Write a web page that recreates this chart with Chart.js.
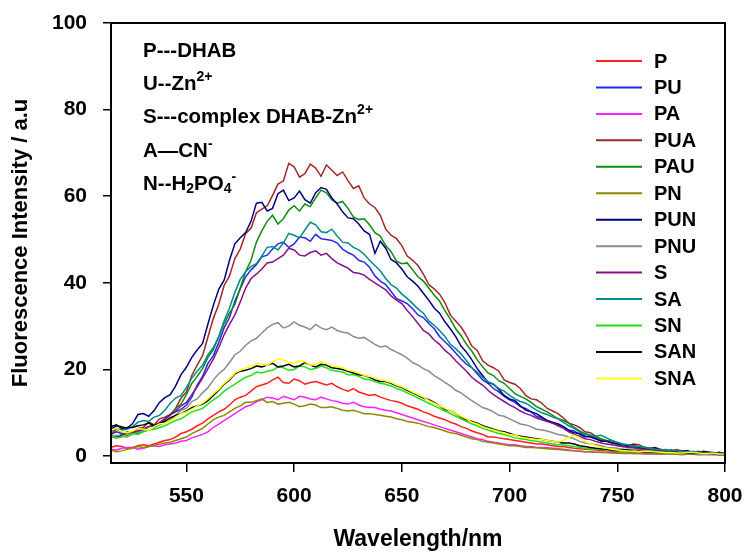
<!DOCTYPE html>
<html><head><meta charset="utf-8">
<script src="https://cdn.jsdelivr.net/npm/chart.js@4"></script>
<style>html,body{margin:0;padding:0;background:#fff;}canvas{display:block;}</style>
</head><body>
<canvas id="c" width="747" height="553"></canvas>
<script>
const wavelengths = [515,517.5,520,522.5,525,527.5,530,532.5,535,537.5,
540,542.5,545,547.5,550,552.5,555,557.5,560,562.5,
565,567.5,570,572.5,575,577.5,580,582.5,585,587.5,
590,592.5,595,597.5,600,602.5,605,607.5,610,612.5,
615,617.5,620,622.5,625,627.5,630,632.5,635,637.5,
640,642.5,645,647.5,650,652.5,655,657.5,660,662.5,
665,667.5,670,672.5,675,677.5,680,682.5,685,687.5,
690,692.5,695,697.5,700,702.5,705,707.5,710,712.5,
715,717.5,720,722.5,725,727.5,730,732.5,735,737.5,
740,742.5,745,747.5,750,752.5,755,757.5,760,762.5,
765,767.5,770,772.5,775,777.5,780,782.5,785,787.5,
790,792.5,795,797.5,800];
const xTicks = [550,600,650,700,750,800];
const yTicks = [0,20,40,60,80,100];
const seriesNames = ['P','PU','PA','PUA','PAU','PN','PUN','PNU','S','SA','SN','SAN','SNA'];
const seriesColors = ['#FF2020','#2828F0','#FF20FF','#A02828','#108A10','#8A8A00','#000080','#8C8C8C','#8A108A','#008C8C','#20E020','#000000','#FFFF10'];

const P = [2.0,2.4,2.2,1.8,2.0,2.4,2.6,2.4,2.8,3.2,
3.6,3.8,4.4,5.2,5.6,6.2,7.0,7.6,8.6,9.4,
10.2,10.8,11.8,13.0,13.6,14.0,15.0,16.0,16.4,16.8,
17.6,18.2,17.0,16.8,17.8,17.4,16.6,17.0,17.2,16.8,
16.4,16.8,16.0,15.4,15.0,15.6,14.8,14.4,14.0,14.2,
13.6,13.2,12.8,12.6,12.2,11.6,11.2,10.8,10.2,9.8,
9.2,8.8,8.4,7.8,7.4,6.8,6.4,5.8,5.4,5.0,
4.4,4.4,4.2,4.0,3.8,3.6,3.4,3.2,3.0,2.8,
2.8,2.6,2.4,2.2,2.2,2.0,1.8,1.7,1.6,1.5,
1.4,1.3,1.2,1.1,1.0,1.0,0.9,0.9,0.8,0.8,
0.9,0.8,0.7,0.6,0.6,0.7,0.6,0.5,0.5,0.5,
0.5,0.4,0.4,0.4,0.4];
const PU = [5.0,5.6,5.2,5.0,5.6,6.4,6.2,6.8,7.0,7.4,
8.4,9.6,10.2,10.8,11.8,13.6,16.4,18.4,21.4,23.2,
26.2,29.6,32.0,35.8,38.6,41.4,43.0,44.2,46.0,46.4,
47.8,49.0,49.4,48.2,49.0,50.6,50.4,49.6,51.2,50.2,
50.0,49.8,49.2,47.8,47.0,46.4,45.2,44.8,43.6,41.6,
40.4,39.6,38.0,36.4,35.8,35.2,34.0,32.6,32.0,30.6,
29.4,27.6,26.4,25.2,23.8,22.4,21.2,20.4,19.0,17.6,
16.8,15.6,14.8,13.8,13.0,12.4,11.4,11.0,10.2,9.2,
8.8,8.2,7.6,7.4,6.8,6.0,5.8,5.0,4.4,4.6,
4.0,3.6,3.4,3.2,2.8,2.6,2.4,2.0,1.9,1.8,
1.6,1.4,1.4,1.2,1.1,1.0,1.2,1.0,0.9,0.8,
0.8,0.7,0.7,0.6,0.6];
const PA = [1.6,1.4,1.8,2.0,2.0,1.6,1.8,2.2,2.4,2.2,
2.6,2.8,3.0,3.4,3.6,4.2,4.6,5.0,5.6,6.6,
7.4,8.2,9.0,9.8,10.6,11.4,11.8,12.6,13.0,13.6,
13.4,13.0,13.8,13.4,13.0,13.8,13.6,13.2,13.0,13.6,
13.2,12.8,12.6,12.2,12.0,12.4,11.8,11.4,11.2,11.2,
10.8,10.6,10.4,10.0,9.6,9.2,8.8,8.4,8.0,7.6,
7.2,6.8,6.4,6.0,5.6,5.2,4.8,4.4,4.0,3.8,
3.4,3.2,3.0,2.8,2.6,2.6,2.4,2.2,2.2,2.0,
2.0,1.9,1.8,1.7,1.6,1.4,1.2,1.1,1.0,1.0,
0.9,0.9,0.8,0.7,0.7,0.6,0.6,0.6,0.6,0.5,
0.5,0.5,0.5,0.4,0.4,0.4,0.3,0.4,0.4,0.3,
0.3,0.3,0.3,0.2,0.2];
const PUA = [5.0,6.2,5.6,4.8,5.3,6.4,6.6,7.9,7.2,8.6,
9.0,9.6,11.0,13.4,14.8,18.6,21.0,23.2,27.5,31.8,
35.0,39.4,41.6,45.6,47.8,51.4,52.6,56.2,57.0,57.8,
60.2,62.8,63.5,67.6,66.8,64.4,65.2,67.4,66.5,64.6,
67.2,66.0,64.8,65.6,63.6,61.8,62.4,59.6,58.2,57.4,
55.6,52.4,51.0,50.2,48.6,46.2,45.2,44.0,42.0,39.6,
38.6,37.4,35.4,32.6,31.2,29.8,27.8,25.4,24.4,22.0,
21.0,20.4,19.6,17.6,17.0,16.6,15.6,14.0,13.2,13.0,
12.2,11.0,10.4,9.8,8.8,7.6,7.2,6.6,5.6,5.4,
4.6,3.8,3.4,3.6,3.0,2.2,2.4,2.8,2.6,2.0,
1.8,2.0,1.6,1.2,1.1,1.5,1.2,0.8,0.8,1.1,
0.9,0.7,0.6,0.9,0.5];
const PAU = [4.8,4.4,5.0,5.6,5.4,5.2,6.0,6.8,7.2,7.6,
8.6,9.4,11.0,12.0,14.2,16.8,18.4,20.2,22.8,24.6,
27.5,30.6,33.0,35.0,38.8,42.6,45.2,49.4,52.0,54.2,
55.6,53.6,54.8,56.8,57.8,56.6,58.2,57.6,59.6,61.4,
60.8,59.2,58.4,58.8,57.2,55.2,54.6,54.8,53.4,51.6,
50.8,48.6,47.2,45.0,44.4,44.6,43.0,41.4,40.4,38.8,
37.2,35.8,33.6,31.6,29.4,27.8,25.8,24.2,22.2,20.6,
19.2,18.6,17.4,16.8,15.6,14.4,13.8,13.2,12.4,11.4,
10.8,10.2,9.4,8.6,8.2,7.6,6.6,5.8,5.2,4.8,
4.4,4.0,3.6,3.2,3.0,2.8,2.4,2.2,2.0,2.1,
1.8,1.5,1.4,1.5,1.2,1.0,1.0,1.1,0.9,0.8,
0.7,0.9,0.8,0.6,0.6];
const PN = [1.4,1.0,1.2,1.6,1.8,2.2,2.0,2.2,2.4,2.8,
3.0,3.2,3.6,4.0,4.4,5.2,5.8,6.4,7.4,8.4,
9.0,9.4,10.2,11.0,11.6,12.4,12.4,12.8,13.2,12.4,
12.6,12.0,12.2,12.4,12.0,11.4,11.6,12.0,11.8,11.2,
11.2,11.4,11.0,10.6,10.4,10.6,10.2,9.8,9.8,9.6,
9.4,9.2,9.0,8.6,8.4,8.0,7.8,7.6,7.2,6.8,
6.6,6.2,5.8,5.4,5.2,4.8,4.4,4.0,3.8,3.4,
3.2,3.0,2.8,2.6,2.4,2.4,2.2,2.0,2.0,1.9,
1.8,1.7,1.6,1.5,1.4,1.3,1.2,1.1,1.0,1.0,
0.9,0.8,0.8,0.8,0.7,0.7,0.7,0.6,0.6,0.6,
0.6,0.5,0.5,0.5,0.5,0.4,0.4,0.5,0.5,0.4,
0.4,0.4,0.4,0.3,0.3];
const PUN = [6.2,7.0,6.8,6.4,7.5,9.6,9.8,9.2,10.5,12.4,
13.5,14.2,16.2,18.8,20.5,22.8,24.5,26.0,30.5,34.8,
38.5,40.6,45.2,49.0,50.4,51.6,54.2,58.4,58.6,56.6,
57.2,60.6,61.4,59.0,59.6,61.2,59.2,58.4,60.8,62.0,
61.6,59.6,58.2,56.4,55.0,54.8,53.6,52.0,51.2,46.8,
49.6,48.0,45.4,44.6,43.2,41.4,40.4,39.2,37.6,36.0,
34.2,33.0,31.0,29.4,27.6,25.4,24.0,22.2,20.2,18.6,
17.0,16.6,15.4,14.0,13.2,12.8,11.6,10.6,10.2,9.8,
9.0,8.2,7.8,7.4,6.8,5.8,5.4,5.2,4.6,4.4,
4.0,3.4,3.4,3.0,2.8,2.2,2.4,2.6,2.0,1.6,
1.6,1.9,1.3,1.2,1.4,1.1,1.0,1.3,0.8,0.7,
1.1,0.9,0.7,0.8,0.6];
const PNU = [4.4,4.8,4.6,4.4,5.0,5.6,5.8,6.0,6.6,7.2,
7.6,8.2,9.4,10.6,11.0,12.6,13.2,14.6,15.8,17.6,
19.0,20.0,21.6,23.4,24.2,25.6,26.6,27.2,28.4,29.6,
30.4,30.8,29.6,30.0,31.0,30.2,29.8,29.2,30.4,29.6,
29.2,29.8,29.0,28.6,28.4,27.6,27.2,27.4,26.6,25.8,
25.2,25.4,24.6,24.0,23.4,22.6,21.6,21.0,20.2,19.6,
18.6,17.8,17.0,16.2,15.2,14.6,13.6,12.8,12.0,11.2,
10.8,10.2,9.4,9.2,8.6,8.0,7.4,7.2,6.8,6.2,
6.0,5.8,5.4,5.0,4.8,4.4,4.0,3.4,3.0,2.8,
2.6,2.4,2.0,1.9,1.8,1.6,1.5,1.5,1.4,1.3,
1.2,1.1,1.0,1.0,0.9,0.8,0.8,0.8,0.7,0.7,
0.7,0.6,0.6,0.5,0.5];
const S = [4.6,4.2,4.8,5.2,5.4,5.8,6.2,6.8,7.0,7.8,
8.6,9.6,10.4,11.6,12.4,14.2,16.0,18.0,20.2,22.4,
25.0,28.0,30.4,32.6,35.6,38.8,41.0,42.0,43.2,44.6,
44.8,45.6,46.4,48.0,47.6,46.4,46.2,47.0,47.4,46.4,
46.8,45.6,44.6,44.0,43.4,42.4,42.2,41.8,40.8,40.0,
39.2,38.4,37.0,36.0,35.2,33.6,32.2,30.6,29.0,28.2,
26.8,25.8,24.4,23.4,22.0,20.8,19.6,18.2,17.2,16.4,
15.2,14.2,13.4,12.6,11.8,11.2,10.4,9.8,9.4,8.8,
8.4,8.0,7.6,7.0,6.4,5.6,5.0,4.6,4.0,3.8,
3.4,3.0,2.8,2.6,2.4,2.2,2.0,1.9,1.7,1.5,
1.4,1.3,1.2,1.1,1.0,1.0,0.9,0.8,0.8,0.7,
0.7,0.6,0.6,0.5,0.5];
const SA = [5.6,6.4,6.0,6.2,6.8,7.8,8.2,8.0,9.0,9.4,
10.6,12.2,13.4,14.0,15.8,18.0,19.6,21.0,23.4,25.0,
27.6,31.2,34.2,37.8,40.8,42.6,43.8,44.4,46.2,48.2,
48.4,47.6,49.2,51.4,51.0,50.4,52.2,54.0,53.4,51.8,
51.6,52.4,50.8,49.4,49.2,48.2,47.6,46.6,45.2,44.0,
42.8,41.0,39.6,38.8,37.4,36.4,35.2,34.0,33.0,31.2,
30.2,29.0,27.6,25.8,24.8,23.6,22.0,20.4,19.4,18.2,
17.2,16.6,15.6,15.0,14.0,13.2,12.6,12.2,11.4,10.6,
10.0,9.6,9.0,8.6,7.8,7.0,6.4,5.6,5.0,4.8,
4.6,4.8,4.2,3.6,3.2,2.8,2.6,2.4,2.2,2.0,
1.8,1.6,1.5,1.3,1.2,1.3,1.0,0.9,1.1,0.9,
0.8,0.6,0.7,0.7,0.6];
const SN = [4.8,4.2,4.4,5.0,5.2,5.0,5.6,6.0,6.2,6.6,
7.0,7.6,8.2,8.6,9.4,10.2,10.6,11.0,12.0,13.0,
13.8,15.0,15.8,16.6,17.4,18.2,18.6,19.4,19.2,19.6,
19.8,20.6,20.4,19.8,20.0,20.8,20.6,20.0,20.2,20.8,
20.4,19.8,19.6,19.4,18.8,18.8,18.4,17.8,17.6,17.2,
16.8,16.6,16.2,15.6,15.2,14.6,14.0,13.4,12.8,12.2,
11.6,11.0,10.4,9.8,9.2,8.6,8.0,7.4,7.0,6.4,
6.0,5.6,5.2,5.0,4.6,4.2,4.0,3.8,3.6,3.4,
3.2,3.0,2.8,2.6,2.6,2.4,2.2,2.0,1.8,1.7,
1.6,1.5,1.4,1.3,1.2,1.1,1.0,1.0,1.1,1.0,
0.9,0.9,0.8,0.7,0.7,0.8,0.8,0.7,0.6,0.6,
0.5,0.6,0.6,0.5,0.5];
const SAN = [6.8,7.2,6.4,6.6,6.6,7.0,7.2,7.6,7.0,7.4,
8.0,8.8,9.4,9.8,10.4,11.2,11.6,12.0,12.8,14.0,
15.2,16.6,17.6,19.0,19.6,19.8,20.2,20.8,20.6,21.0,
21.4,20.6,20.8,21.2,20.6,20.8,21.6,21.0,20.6,21.2,
21.0,20.4,20.2,20.0,19.6,19.2,18.8,18.6,18.2,17.6,
17.2,17.2,16.8,16.2,15.8,15.2,14.6,14.0,13.4,13.0,
12.4,11.6,10.8,10.4,9.8,9.0,8.4,8.0,7.6,7.0,
6.6,6.2,5.8,5.6,5.2,4.8,4.6,4.4,4.2,4.0,
3.8,3.6,3.4,3.2,3.0,3.0,2.8,2.4,2.2,2.0,
1.8,1.7,1.6,1.4,1.3,1.5,1.4,1.2,1.1,1.0,
1.0,0.9,0.8,0.9,0.9,0.8,0.7,0.7,0.6,0.7,
0.7,0.6,0.5,0.6,0.5];
const SNA = [6.0,6.4,5.6,5.4,5.8,6.4,6.2,6.0,6.8,7.4,
7.6,8.0,9.0,9.8,10.2,10.8,11.6,12.2,13.2,14.4,
15.4,16.8,17.8,19.2,19.8,20.4,20.6,21.4,21.2,21.0,
21.8,22.4,22.2,21.6,21.4,22.0,21.8,21.0,21.2,21.8,
21.4,20.8,20.6,20.4,19.8,19.6,19.2,18.6,18.4,18.0,
17.6,17.4,17.0,16.4,16.0,15.4,14.8,14.2,13.6,12.8,
12.2,11.6,11.0,10.4,9.8,9.2,8.6,7.8,7.4,6.8,
6.4,6.0,5.6,5.4,5.0,4.8,4.4,4.2,4.0,3.8,
3.8,3.6,3.4,3.2,3.6,4.4,4.8,4.2,3.4,2.8,
2.4,2.0,1.8,1.6,1.4,1.3,1.2,1.1,1.0,1.1,
1.1,1.0,0.9,0.8,0.8,0.7,0.7,0.8,0.8,0.7,
0.6,0.6,0.6,0.5,0.5];
const seriesValues = [P,PU,PA,PUA,PAU,PN,PUN,PNU,S,SA,SN,SAN,SNA];

const notes = [
  [['P---DHAB','n']],
  [['U--Zn','n'],['2+','sup']],
  [['S---complex DHAB-Zn','n'],['2+','sup']],
  [['A\u2014CN','n'],['-','sup']],
  [['N--H','n'],['2','sub'],['PO','n'],['4','sub'],['-','sup']]
];

const FONT = '"Liberation Sans", Arial, Helvetica, sans-serif';

const bgPlugin = {
  id: 'bg',
  beforeDraw(chart) {
    const c = chart.ctx;
    c.save(); c.fillStyle = '#fff'; c.fillRect(0, 0, chart.width, chart.height); c.restore();
  }
};
const framePlugin = {
  id: 'frame',
  afterDraw(chart) {
    const a = chart.chartArea, c = chart.ctx;
    c.save(); c.strokeStyle = '#000'; c.lineWidth = 2;
    c.strokeRect(a.left, a.top, a.right - a.left, a.bottom - a.top);
    c.restore();
  }
};
const legendPlugin = {
  id: 'customLegend',
  afterDraw(chart) {
    const c = chart.ctx;
    c.save();
    c.font = 'bold 20px ' + FONT;
    c.textBaseline = 'middle';
    c.textAlign = 'left';
    chart.data.datasets.forEach((ds, i) => {
      const y = 61 + i * 26.45;
      c.strokeStyle = ds.borderColor; c.lineWidth = 2;
      c.beginPath(); c.moveTo(596, y); c.lineTo(642, y); c.stroke();
      c.fillStyle = '#000';
      c.fillText(ds.label, 654, y + 1);
    });
    c.restore();
  }
};
const notesPlugin = {
  id: 'notes',
  afterDraw(chart) {
    const c = chart.ctx;
    c.save();
    c.fillStyle = '#000';
    c.textBaseline = 'alphabetic';
    c.textAlign = 'left';
    notes.forEach((parts, i) => {
      let x = 143;
      const y = 57 + i * 33.2;
      parts.forEach(([t, k]) => {
        let dy = 0;
        if (k === 'n') c.font = 'bold 20.5px ' + FONT;
        else { c.font = 'bold 14px ' + FONT; dy = (k === 'sup') ? -9 : 3; }
        c.fillText(t, x, y + dy);
        x += c.measureText(t).width;
      });
    });
    c.restore();
  }
};

new Chart(document.getElementById('c').getContext('2d'), {
  type: 'line',
  data: {
    datasets: seriesNames.map((name, i) => ({
      label: name,
      data: wavelengths.map((w, j) => ({ x: w, y: seriesValues[i][j] })),
      borderColor: seriesColors[i],
      backgroundColor: seriesColors[i],
      borderWidth: 1.5,
      pointRadius: 0,
      fill: false,
      tension: 0,
      order: seriesNames.length - i
    }))
  },
  options: {
    responsive: false,
    animation: false,
    devicePixelRatio: 1,
    events: [],
    layout: { padding: { top: 23, right: 22, left: 0, bottom: 0 } },
    plugins: { legend: { display: false }, tooltip: { enabled: false } },
    scales: {
      x: {
        type: 'linear', min: 515, max: 800,
        afterBuildTicks: s => { s.ticks = xTicks.map(v => ({ value: v })); },
        afterFit: s => { s.height = 90; s.paddingLeft = 0; s.paddingRight = 0; },
        grid: { display: true, drawOnChartArea: false, drawTicks: true, tickLength: 9, color: '#000', lineWidth: 1.5 },
        border: { display: true, color: '#000', width: 2 },
        ticks: { color: '#000', font: { family: FONT, size: 21, weight: 'bold' }, padding: 12, maxRotation: 0, autoSkip: false },
        title: { display: true, text: 'Wavelength/nm', color: '#000', font: { family: FONT, size: 23, weight: 'bold' }, padding: { top: 0, bottom: 0 } }
      },
      y: {
        type: 'linear', min: -1.6, max: 100,
        afterBuildTicks: s => { s.ticks = yTicks.map(v => ({ value: v })); },
        afterFit: s => { s.width = 111; s.paddingTop = 0; s.paddingBottom = 0; },
        grid: { display: true, drawOnChartArea: false, drawTicks: true, tickLength: 8, color: '#000', lineWidth: 1.5 },
        border: { display: true, color: '#000', width: 2 },
        ticks: { color: '#000', font: { family: FONT, size: 21, weight: 'bold' }, padding: 16 },
        title: { display: true, text: 'Fluorescence Intensity / a.u', color: '#000', font: { family: FONT, size: 22, weight: 'bold' }, padding: { top: 8, bottom: 0 } }
      }
    }
  },
  plugins: [bgPlugin, framePlugin, legendPlugin, notesPlugin]
});
</script>
</body></html>
